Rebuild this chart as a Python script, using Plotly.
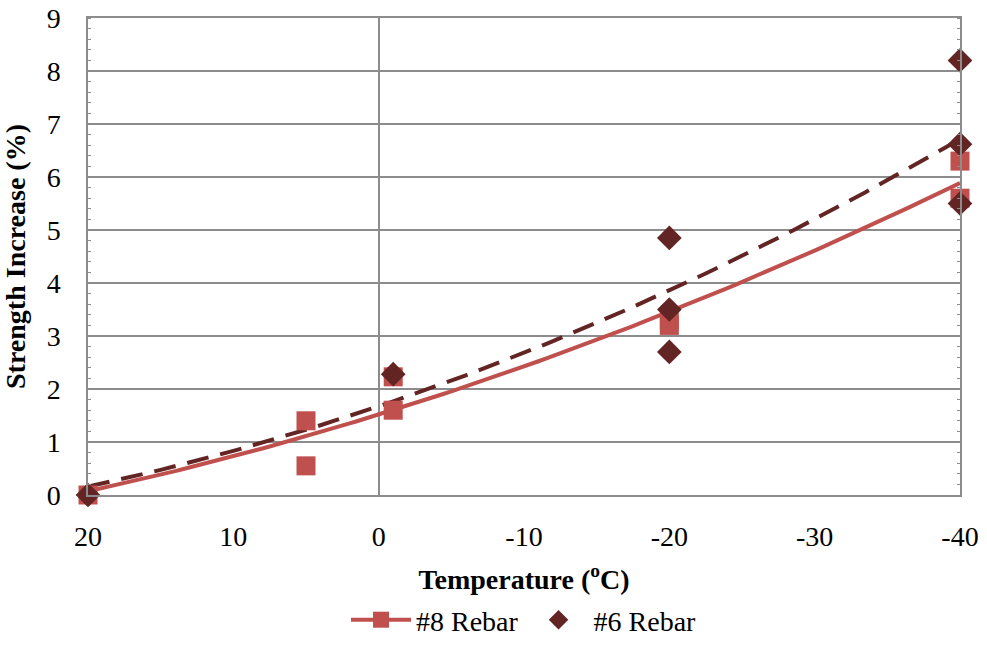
import numpy as np
import plotly.graph_objects as go

# Data
temp8 = [20, 5, 5, -1, -1, -20, -20, -40, -40]
inc8 = [0.0, 1.40, 0.55, 2.23, 1.60, 3.20, 3.30, 6.30, 5.60]
temp6 = [20, -1, -20, -20, -20, -40, -40, -40]
inc6 = [0.0, 2.28, 4.85, 3.50, 2.70, 8.20, 6.62, 5.50]
x_ticks = [20, 10, 0, -10, -20, -30, -40]
y_ticks = list(range(0, 10))

c8 = "#C0504D"
c6 = "#632523"
font = "Times New Roman, Liberation Serif, serif"
fs = 28

# Polynomial (2nd order) trendlines, like Excel
xs = np.linspace(20, -40, 121)
p8 = np.polyfit(temp8, inc8, 2)
p6 = np.polyfit(temp6, inc6, 2)

fig = go.Figure()
fig.add_trace(go.Scatter(x=xs, y=np.polyval(p8, xs), mode="lines",
                         line=dict(color=c8, width=4), showlegend=False, hoverinfo="skip"))
fig.add_trace(go.Scatter(x=xs, y=np.polyval(p6, xs), mode="lines",
                         line=dict(color=c6, width=4, dash="22px,12px"), showlegend=False, hoverinfo="skip"))
fig.add_trace(go.Scatter(x=temp8, y=inc8, mode="markers", name="#8 Rebar", cliponaxis=False,
                         marker=dict(symbol="square", size=19, color=c8), showlegend=False))
fig.add_trace(go.Scatter(x=temp6, y=inc6, mode="markers", name="#6 Rebar", cliponaxis=False,
                         marker=dict(symbol="diamond", size=19, color=c6), showlegend=False))
# legend entries
fig.add_trace(go.Scatter(x=[None], y=[None], mode="lines+markers", name="#8 Rebar",
                         line=dict(color=c8, width=4),
                         marker=dict(symbol="square", size=19, color=c8)))
fig.add_trace(go.Scatter(x=[None], y=[None], mode="markers", name="#6 Rebar",
                         marker=dict(symbol="diamond", size=15, color=c6)))

fig.update_layout(
    width=987, height=645,
    margin=dict(l=88, r=27, t=18, b=150, autoexpand=False),
    paper_bgcolor="white", plot_bgcolor="white",
    font=dict(family=font, size=fs, color="black"),
    legend=dict(orientation="h", x=0.5, xanchor="center", yref="container", y=-0.018, yanchor="bottom",
                font=dict(family=font, size=fs), itemwidth=60, traceorder="normal"),
    xaxis=dict(
        range=[20, -40], tickvals=x_ticks, ticktext=[str(v) for v in x_ticks],
        showgrid=False, zeroline=True, zerolinecolor="#8C8C8C", zerolinewidth=1.5,
        showline=True, linecolor="#8C8C8C", linewidth=1.5, mirror=True,
        ticks="", ticklabelstandoff=16, automargin=False,
        title=dict(text="<b>Temperature (<sup>o</sup>C)</b>", font=dict(family=font, size=fs), standoff=23),
        tickfont=dict(family=font, size=fs),
    ),
    yaxis=dict(
        range=[0, 9], tickvals=y_ticks,
        showgrid=True, gridcolor="#8C8C8C", gridwidth=1.5, zeroline=False,
        showline=True, linecolor="#8C8C8C", linewidth=1.5, mirror="ticks",
        ticks="", ticklabelstandoff=20, automargin=False,
        minor=dict(dtick=0.2, ticks="inside", ticklen=3, tickcolor="#8C8C8C", showgrid=False),
        title=dict(text="<b>Strength Increase (%)</b>", font=dict(family=font, size=fs), standoff=14),
        tickfont=dict(family=font, size=fs),
    ),
)

fig.write_html("out.html")
